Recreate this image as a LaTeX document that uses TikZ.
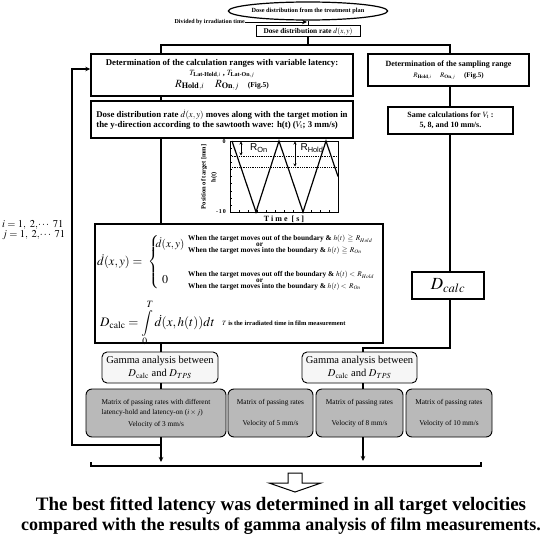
\documentclass[tikz,border=0pt]{standalone}
\usepackage{amsmath}
\usepackage{amssymb}
\usepackage{mathptmx}
\usepackage{fontspec}
\setmainfont{Liberation Serif}
\newfontfamily\plotfont{Liberation Sans}
\usetikzlibrary{arrows.meta,positioning,shapes.geometric}

\tikzset{
  flowbox/.style={draw,line width=1.4pt,align=center,inner sep=1pt,font=\bfseries\fontsize{8.8}{10.5}\selectfont},
  gammabox/.style={draw,line width=0.9pt,rounded corners=5pt,fill=gray!7,align=center,minimum height=31pt,font=\fontsize{10.5}{13}\selectfont},
  matbox/.style={draw,line width=0.9pt,rounded corners=6pt,fill=gray!55,align=center,minimum height=48pt,font=\fontsize{7.3}{9.5}\selectfont},
  condtext/.style={anchor=west,align=left,inner sep=0pt,font=\bfseries\fontsize{7.3}{6}\selectfont},
  flow/.style={line width=2pt},
}

\begin{document}
\begin{tikzpicture}[x=1pt,y=-1pt,>={Stealth[length=5pt,width=4.5pt]}]
  \useasboundingbox (0,0) rectangle (560,543);
  % spines
  \coordinate (lspine) at (161,0);
  \coordinate (rspine) at (450,0);
  \coordinate (rjoin) at (363,348);

  % top of the chart
  \node[ellipse,draw,line width=1.2pt,minimum width=137pt,minimum height=18pt,inner sep=0pt,
        font=\bfseries\fontsize{6.3}{7}\selectfont] (plan) at (308,11) {Dose distribution from the treatment plan};
  \node[draw,line width=1pt,minimum width=104pt,minimum height=11pt,inner sep=0pt,
        font=\bfseries\fontsize{7.3}{8}\selectfont] (rate) at (308,31.5) {Dose distribution rate $\dot{d}(x,y)$};
  \coordinate (divpt) at (307,22);
  \node[left=62pt of divpt,inner sep=0pt,font=\bfseries\fontsize{6}{7}\selectfont] (div) {Divided by irradiation time};
  \coordinate (split) at (308,45);

  % left column
  \node[flowbox,minimum width=262pt,minimum height=42pt] (calc) at (222,75)
    {Determination of the calculation ranges with variable latency:\\[-1pt]
     {\fontsize{8}{9}\selectfont$T_{\text{Lat-Hold},i}$ , $T_{\text{Lat-On},j}$}\\[1.5pt]
     {\fontsize{11}{12}\selectfont$R_{\mathbf{Hold},i}$\quad$R_{\mathbf{On},j}$}\quad{\fontsize{7.5}{8}\selectfont(Fig.5)}};
  \node[flowbox,minimum width=262pt,minimum height=37pt,align=left] (move) at (222,119.5)
    {Dose distribution rate $\dot{d}(x,y)$ moves along with the target motion in\\
     the y-direction according to the sawtooth wave: h(t) ($V_{\mathrm{t}}$; 3 mm/s)};
  \node[draw,line width=1.4pt,minimum width=288pt,minimum height=119pt] (big) at (239,283.5) {};

  % sawtooth plot
  \draw[line width=0.7pt] (230,141) rectangle (338,212);
  \foreach \k in {1,...,9} \draw[line width=0.4pt] (230,141+7.1*\k) -- ++(2,0);
  \foreach \k in {1,...,11} \draw[line width=0.4pt] (230+9*\k,212) -- ++(0,-2);
  \draw[densely dotted,line width=0.8pt] (230,156) -- (338,156) (230,167) -- (338,167);
  \draw[line width=1.2pt] (232,141) -- (256,212) -- (279,141) -- (303,212) -- (326,141) -- (338,176.5);
  \draw[<->,>={Stealth[length=3pt,width=3pt]},line width=0.6pt] (241,141.5) -- (241,155.5);
  \draw[<->,>={Stealth[length=3pt,width=3pt]},line width=0.6pt] (295,141.5) -- (295,166.5);
  \node[font=\plotfont\fontsize{10}{11}\selectfont,inner sep=0pt] (ron) at (259,148) {R$_{\text{On}}$};
  \node[font=\plotfont\fontsize{10}{11}\selectfont,inner sep=0pt] (rhold) at (312,148) {R$_{\text{Hold}}$};
  \node[font=\bfseries\fontsize{6}{7}\selectfont,inner sep=0pt] (y0) at (224,142) {0};
  \node[font=\bfseries\fontsize{6}{7}\selectfont,inner sep=0pt] (y10) at (221,212) {-\,1\,0};
  \node[rotate=90,font=\bfseries\fontsize{6.5}{7}\selectfont,inner sep=0pt] (ylab) at (204,177) {Position of target [mm]};
  \node[rotate=90,font=\bfseries\fontsize{6.5}{7}\selectfont,inner sep=0pt] (hlab) at (214,177) {h(t)};
  \node[font=\bfseries\fontsize{8}{9}\selectfont,inner sep=0pt] (tlab) at (284,219.5) {T i m e \ [ s ]};

  % contents of the big box
  \node[anchor=west,inner sep=0pt,font=\fontsize{12.5}{14}\selectfont] (lhs) at (97,262) {$\dot{d}(x,y)=$};
  \node[inner sep=0pt,font=\fontsize{12.5}{14}\selectfont] (brace) at (154,262) {$\left\{\vcenter{\hrule height 54pt width 0pt}\right.$};
  \node[inner sep=0pt,font=\fontsize{11}{13}\selectfont] (row1) at (170,244) {$\dot{d}(x,y)$};
  \node[inner sep=0pt,font=\fontsize{12}{13}\selectfont] (row0) at (165,280) {$0$};
  \node[condtext] (cond1) at (188,245)
    {When the target moves out of the boundary \& $h(t)\,\geqq\,R_{Hold}$\\
     \hspace*{68pt}or\\
     When the target moves into the boundary \& $h(t)\,\geqq\,R_{On}$};
  \node[condtext] (cond0) at (188,281)
    {When the target moves out off the boundary \& $h(t)<\,R_{Hold}$\\
     \hspace*{68pt}or\\
     When the target moves into the boundary \& $h(t)<\,R_{On}$};
  \node[anchor=west,inner sep=0pt,font=\fontsize{13}{14}\selectfont] (dint) at (100,323)
    {$D_{\mathrm{calc}}=\displaystyle\int\limits_0^T\dot{d}(x,h(t))dt$};
  \node[anchor=west,inner sep=0pt,font=\bfseries\fontsize{6.5}{7}\selectfont] (tnote) at (222,323)
    {$T$ is the irradiated time in film measurement};
  \node[anchor=west,align=left,inner sep=0pt,font=\fontsize{10.5}{9.5}\selectfont] (ij) at (2,230)
    {$i=1,\ 2,\!\cdots\ 71$\\$j=1,\ 2,\!\cdots\ 71$};

  % right column
  \node[flowbox,minimum width=161pt,minimum height=32pt,font=\bfseries\fontsize{8}{10.5}\selectfont] (samp) at (448.5,70)
    {Determination of the sampling range\\
     {\fontsize{7}{8}\selectfont$R_{\mathbf{Hold},i}$\quad\ $R_{\mathbf{On},j}$\quad\ (Fig.5)}};
  \node[flowbox,minimum width=125pt,minimum height=27pt,font=\bfseries\fontsize{8}{10.5}\selectfont] (same) at (450.5,120.5)
    {Same calculations for $V_{\mathrm{t}}$ :\\5, 8, and 10 mm/s.};
  \node[draw,line width=1.4pt,minimum width=72pt,minimum height=27pt,font=\fontsize{17}{18}\selectfont] (dcalc) at (448,285.5) {$D_{calc}$};

  % gamma analysis and matrices
  \node[gammabox,minimum width=116pt] (gamL) at (160,367.5) {Gamma analysis between\\$D_{\mathrm{calc}}$ and $D_{TPS}$};
  \node[gammabox,minimum width=115pt] (gamR) at (359.5,367.5) {Gamma analysis between\\$D_{\mathrm{calc}}$ and $D_{TPS}$};
  \node[matbox,minimum width=140pt] (mat1) at (156,413)
    {\begin{tabular}{@{}l@{}}Matrix of passing rates with different\\latency-hold and latency-on ($i\times j$)\end{tabular}\\[3pt]Velocity of 3 mm/s};
  \node[matbox,minimum width=85pt] (mat2) at (270.5,413) {Matrix of passing rates\\[11pt]Velocity of 5 mm/s};
  \node[matbox,minimum width=87pt] (mat3) at (359.5,413) {Matrix of passing rates\\[11pt]Velocity of 8 mm/s};
  \node[matbox,minimum width=86pt] (mat4) at (449,413) {Matrix of passing rates\\[11pt]Velocity of 10 mm/s};

  % connectors
  \draw[line width=1pt] (plan) -- (rate);
  \draw[->,line width=0.8pt] (div) -- (divpt);
  \draw[flow] (rate) -- (split);
  \draw[flow] (calc.north -| lspine) |- (split) -| (samp.north -| rspine);
  \draw[flow] (calc.south -| lspine) -- (move.north -| lspine);
  \draw[flow] (move.south -| lspine) -- (big.north -| lspine);
  \draw[flow] (big.south -| lspine) -- (gamL.north -| lspine);
  \draw[flow] (gamL.south -| lspine) -- (mat1.north -| lspine);
  \draw[flow] (samp.south -| rspine) -- (same.north -| rspine);
  \draw[flow] (same.south -| rspine) -- (dcalc.north -| rspine);
  \draw[flow] (dcalc.south -| rspine) |- (rjoin) -- (gamR.north -| rjoin);
  \draw[flow] (gamR.south -| rjoin) -- (mat3.north -| rjoin);

  % feedback loop and gathering bracket
  \coordinate (fb) at (161,445);
  \coordinate (fbtop) at (72,69);
  \coordinate (brL) at (91,466);
  \coordinate (brR) at (481,466);
  \draw[flow,->] (fb) -| (fbtop) -- (calc.west |- fbtop);
  \draw[line width=1.5pt,->] (mat1.south -| lspine) -- (161,462);
  \draw[line width=1.5pt,->] (mat3.south -| rjoin) -- (363,461);
  \draw[line width=1.5pt] (91,462) -- (brL) -- (brR) -- (481,462);

  % hollow arrow and result
  \draw[line width=1pt,fill=white] (288,473) -- (302,473) -- (302,483) -- (321,483) -- (295,492)
    -- (269,483) -- (288,483) -- cycle;
  \node[align=center,inner sep=0pt,font=\bfseries\fontsize{19}{20.5}\selectfont] (result) at (281,516)
    {The best fitted latency was determined in all target velocities\\
     {\fontsize{18}{20.5}\selectfont compared with the results of gamma analysis of film measurements.}};
\end{tikzpicture}
\end{document}
